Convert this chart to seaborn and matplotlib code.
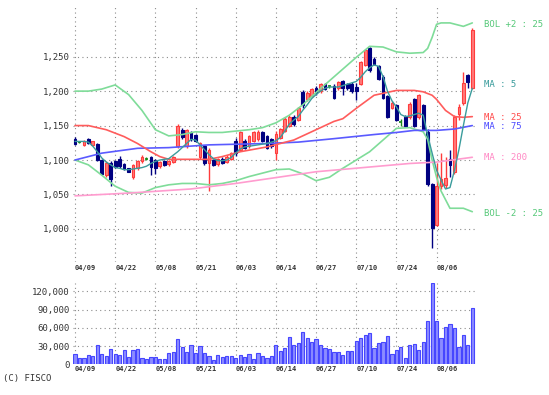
import seaborn as sns
import matplotlib.pyplot as plt
from matplotlib.transforms import blended_transform_factory

sns.set_theme(style="white")
plt.rcParams['font.family'] = ['DejaVu Sans Mono']

# trading days (index), date ticks
days = list(range(90))
date_pos = [0, 9, 18, 27, 36, 45, 54, 63, 72, 81]
date_labels = ["04/09", "04/22", "05/08", "05/21", "06/03",
               "06/14", "06/27", "07/10", "07/24", "08/06"]

# daily OHLC
opens = [1131, 1126, 1122, 1131, 1122, 1123, 1100, 1078, 1096, 1098,
         1101, 1094, 1088, 1075, 1088, 1098, 1102, 1104, 1100, 1091,
         1099, 1094, 1097, 1120, 1143, 1120, 1140, 1136, 1105, 1120,
         1095, 1100, 1094, 1102, 1097, 1102, 1128, 1115, 1128, 1120,
         1128, 1130, 1140, 1135, 1130, 1110, 1132, 1142, 1150, 1163,
         1158, 1199, 1188, 1193, 1205, 1200, 1210, 1207, 1208, 1204,
         1214, 1210, 1211, 1206, 1211, 1238, 1262, 1247, 1236, 1221,
         1193, 1176, 1180, 1155, 1163, 1163, 1188, 1162, 1180, 1140,
         1065, 1006, 1062, 1064, 1102, 1083, 1167, 1183, 1223, 1205]
highs = [1133, 1128, 1129, 1132, 1128, 1125, 1102, 1098, 1098, 1100,
         1106, 1096, 1089, 1094, 1100, 1107, 1104, 1106, 1101, 1098,
         1100, 1100, 1106, 1152, 1146, 1145, 1142, 1138, 1126, 1122,
         1118, 1102, 1103, 1104, 1107, 1112, 1132, 1142, 1130, 1137,
         1142, 1143, 1142, 1137, 1132, 1142, 1147, 1162, 1165, 1165,
         1177, 1201, 1200, 1205, 1207, 1212, 1212, 1209, 1210, 1215,
         1216, 1212, 1213, 1212, 1244, 1260, 1264, 1249, 1238, 1223,
         1195, 1185, 1182, 1160, 1165, 1184, 1190, 1196, 1182, 1145,
         1067, 1095, 1110, 1105, 1114, 1165, 1182, 1228, 1225, 1292]
lows = [1122, 1124, 1120, 1123, 1120, 1098, 1078, 1076, 1063, 1088,
        1089, 1085, 1082, 1072, 1086, 1096, 1100, 1078, 1080, 1089,
        1091, 1092, 1095, 1118, 1131, 1118, 1128, 1126, 1101, 1093,
        1055, 1091, 1092, 1094, 1095, 1100, 1106, 1113, 1116, 1118,
        1126, 1128, 1126, 1116, 1118, 1100, 1130, 1140, 1148, 1150,
        1156, 1176, 1186, 1191, 1195, 1198, 1201, 1205, 1188, 1202,
        1195, 1202, 1198, 1187, 1209, 1236, 1228, 1238, 1216, 1188,
        1161, 1174, 1156, 1150, 1148, 1160, 1148, 1160, 1143, 1062,
        972, 1004, 1058, 1060, 1076, 1080, 1158, 1180, 1204, 1203]
closes = [1123, 1126, 1128, 1124, 1127, 1100, 1080, 1096, 1073, 1090,
          1092, 1087, 1083, 1093, 1098, 1105, 1102, 1090, 1088, 1097,
          1093, 1099, 1104, 1150, 1133, 1143, 1130, 1128, 1125, 1095,
          1115, 1093, 1101, 1096, 1105, 1110, 1110, 1140, 1118, 1135,
          1140, 1141, 1128, 1118, 1120, 1138, 1145, 1160, 1163, 1152,
          1175, 1180, 1198, 1203, 1197, 1210, 1203, 1207, 1190, 1213,
          1205, 1204, 1200, 1200, 1242, 1259, 1231, 1240, 1218, 1190,
          1163, 1183, 1158, 1155, 1150, 1182, 1150, 1194, 1145, 1065,
          1002, 1062, 1073, 1074, 1093, 1162, 1177, 1212, 1213, 1288]
volume = [17000, 10000, 11000, 15000, 13500, 32000, 17000, 13500, 24700, 17000,
          15700, 24000, 12600, 24000, 26000, 10000, 8000, 12000, 12000, 8000,
          8000, 18000, 19800, 41700, 28000, 21000, 31000, 18000, 30000, 18000,
          13000, 7000, 16000, 12000, 14000, 13000, 11000, 16000, 12000, 17600,
          8200, 18000, 13000, 11000, 13000, 31000, 21500, 27000, 45500, 31800,
          34500, 52700, 43800, 36000, 42000, 31000, 27000, 24700, 20800, 20800,
          14800, 21400, 22000, 38500, 43800, 48300, 51000, 27400, 35700, 37400,
          46600, 16500, 23600, 29000, 11000, 31800, 34000, 23600, 36000, 71300,
          133500, 71300, 43800, 62000, 65800, 60300, 29000, 48000, 31800, 93300]

# 5-day moving average, every day
ma5 = [1127, 1127, 1127, 1126, 1120, 1112, 1103, 1097, 1093, 1089,
       1088, 1086, 1086, 1087, 1088, 1089, 1091, 1095, 1098, 1100,
       1101, 1102, 1107, 1112, 1118, 1124, 1130, 1129, 1122, 1115,
       1108, 1102, 1099, 1099, 1100, 1104, 1110, 1116, 1119, 1120,
       1121, 1122, 1123, 1124, 1126, 1128, 1133, 1142, 1152, 1158,
       1163, 1172, 1180, 1189, 1195, 1200, 1204, 1206, 1206, 1206,
       1208, 1210, 1212, 1214, 1220, 1228, 1234, 1238, 1236, 1221,
       1200, 1186, 1177, 1166, 1163, 1164, 1166, 1168, 1165, 1136,
       1110, 1085, 1071, 1058, 1060, 1085, 1115, 1150, 1183, 1204]

# smoother lines, read at sample days
ma25_day = [0, 3, 7, 11, 14, 17, 19, 21, 26, 30, 33, 37, 43, 49, 53, 58,
            60, 63, 67, 72, 76, 78, 80, 81, 83, 85, 87, 89]
ma25 = [1150, 1150, 1144, 1134, 1124, 1112, 1105, 1101, 1101, 1101, 1105,
        1112, 1119, 1129, 1141, 1156, 1160, 1175, 1194, 1201, 1201, 1199,
        1194, 1188, 1172, 1163, 1162, 1163]
ma75_day = [0, 6, 14, 21, 30, 43, 50, 58, 67, 72, 76, 81, 85, 89]
ma75 = [1100, 1110, 1117, 1118, 1122, 1124, 1126, 1131, 1137, 1140, 1143,
        1143, 1145, 1150]
ma200_day = [0, 12, 19, 26, 36, 54, 75, 81, 89]
ma200 = [1048, 1052, 1055, 1058, 1066, 1083, 1095, 1097, 1104]
bol_day = [0, 3, 6, 9, 12, 15, 18, 21, 24, 27, 30, 33, 36, 39, 42, 45, 48,
           51, 54, 57, 60, 63, 66, 69, 72, 75, 78, 79, 80, 81, 82, 84, 87, 89]
bol_up = [1200, 1200, 1203, 1209, 1195, 1172, 1144, 1135, 1137, 1141, 1140,
          1140, 1142, 1144, 1147, 1154, 1165, 1180, 1198, 1215, 1232, 1249,
          1265, 1264, 1257, 1255, 1256, 1262, 1278, 1297, 1299, 1299, 1294, 1299]
bol_dn = [1100, 1093, 1078, 1062, 1053, 1052, 1060, 1064, 1066, 1066, 1064,
          1066, 1070, 1076, 1081, 1086, 1087, 1080, 1070, 1075, 1088, 1100,
          1112, 1129, 1146, 1147, 1141, 1130, 1100, 1075, 1055, 1030, 1030, 1025]

C_UP_EDGE, C_UP_FILL = "#ff3c3c", "#ff7a7a"
C_DOWN = "#000080"
C_DOJI = "#1a8a1a"
C_BOL = "#7fdc99"
C_MA5 = "#3a9c9c"
C_MA25 = "#ff5c5c"
C_MA75 = "#5a5aff"
C_MA200 = "#ff9ccf"
C_GRID = "#8c8c8c"
C_TEXT = "#333333"

fig = plt.figure(figsize=(5.49, 3.95), dpi=100)
ax = fig.add_axes([73 / 549, 1 - 262 / 395, 403 / 549, 257 / 395])
axv = fig.add_axes([73 / 549, 1 - 364.3 / 395, 403 / 549, 81.3 / 395])

for a in (ax, axv):
    for s in a.spines.values():
        s.set_visible(False)
    a.set_xlim(-0.45, 89.83)
    a.set_xticks([])
    a.tick_params(axis='y', length=0, pad=2.5, labelsize=6.5, labelcolor=C_TEXT)
    for d in date_pos:
        a.axvline(d, color=C_GRID, lw=0.8, ls=(0, (1, 3)), zorder=0)

# --- price panel ---
ax.set_ylim(952, 1325)
price_ticks = [1000, 1050, 1100, 1150, 1200, 1250]
ax.set_yticks(price_ticks)
ax.set_yticklabels([f"{t:,}" for t in price_ticks])
for t in price_ticks:
    ax.axhline(t, color=C_GRID, lw=0.8, ls=(0, (1, 3)), zorder=0)

up = [i for i in days if closes[i] > opens[i]]
dn = [i for i in days if closes[i] < opens[i]]
dj = [i for i in days if closes[i] == opens[i]]

ax.vlines(up, [lows[i] for i in up], [highs[i] for i in up], color=C_UP_EDGE, lw=1, zorder=2)
ax.vlines(dn, [lows[i] for i in dn], [highs[i] for i in dn], color=C_DOWN, lw=1, zorder=2)
ax.vlines(dj, [lows[i] for i in dj], [highs[i] for i in dj], color=C_DOJI, lw=1, zorder=2)
ax.bar(up, [closes[i] - opens[i] for i in up], bottom=[opens[i] for i in up],
       width=0.62, color=C_UP_FILL, edgecolor=C_UP_EDGE, lw=0.8, zorder=2)
ax.bar(dn, [opens[i] - closes[i] for i in dn], bottom=[closes[i] for i in dn],
       width=0.62, color=C_DOWN, edgecolor=C_DOWN, lw=0.8, zorder=2)
ax.hlines([opens[i] for i in dj], [i - 0.35 for i in dj], [i + 0.35 for i in dj],
          color=C_DOJI, lw=1.2, zorder=2)

lw = 1.2
sns.lineplot(x=bol_day, y=bol_up, ax=ax, color=C_BOL, lw=lw, zorder=3)
sns.lineplot(x=bol_day, y=bol_dn, ax=ax, color=C_BOL, lw=lw, zorder=3)
sns.lineplot(x=ma200_day, y=ma200, ax=ax, color=C_MA200, lw=lw, zorder=3)
sns.lineplot(x=ma75_day, y=ma75, ax=ax, color=C_MA75, lw=lw, zorder=3)
sns.lineplot(x=ma25_day, y=ma25, ax=ax, color=C_MA25, lw=lw, zorder=3)
sns.lineplot(x=days, y=ma5, ax=ax, color=C_MA5, lw=1.0, zorder=4)
ax.set_xlim(-0.45, 89.83)
ax.set_xlabel("")
ax.set_ylabel("")

# legend labels on the right
lx = 91.6
for txt, y, c in [("BOL +2 : 25", 1296, "#55c878"), ("MA : 5", 1209, C_MA5),
                  ("MA : 25", 1161, "#ff4a4a"), ("MA : 75", 1148, "#4a4aff"),
                  ("MA : 200", 1103, "#ff88c4"), ("BOL -2 : 25", 1023, "#55c878")]:
    ax.text(lx, y, txt, color=c, fontsize=6.5, va='center', ha='left', clip_on=False)

# --- volume panel ---
sns.barplot(x=days, y=volume, native_scale=True, width=0.72, color="#8c8cff",
            edgecolor="#4646ff", linewidth=0.8, saturation=1, ax=axv, zorder=2)
axv.set_xlim(-0.45, 89.83)
axv.set_ylim(0, 134000)
vol_ticks = [0, 30000, 60000, 90000, 120000]
axv.set_yticks(vol_ticks)
axv.set_yticklabels([f"{t:,}" for t in vol_ticks])
axv.set_xticks([])
axv.set_xlabel("")
axv.set_ylabel("")
for t in vol_ticks[1:]:
    axv.axhline(t, color=C_GRID, lw=0.8, ls=(0, (1, 3)), zorder=0)

# date labels above and below the volume panel
tr = blended_transform_factory(axv.transData, axv.transAxes)
for d, lab in zip(date_pos, date_labels):
    axv.text(d, 1.184, lab, transform=tr, fontsize=5, fontweight='bold',
             color=C_TEXT, ha='left', va='center')
    axv.text(d, -0.058, lab, transform=tr, fontsize=5, fontweight='bold',
             color=C_TEXT, ha='left', va='center')

fig.text(3 / 549, 1 - 379 / 395, "(C) FISCO", fontsize=6.5, color=C_TEXT,
         ha='left', va='center')

fig.savefig("out.png", dpi=100)
